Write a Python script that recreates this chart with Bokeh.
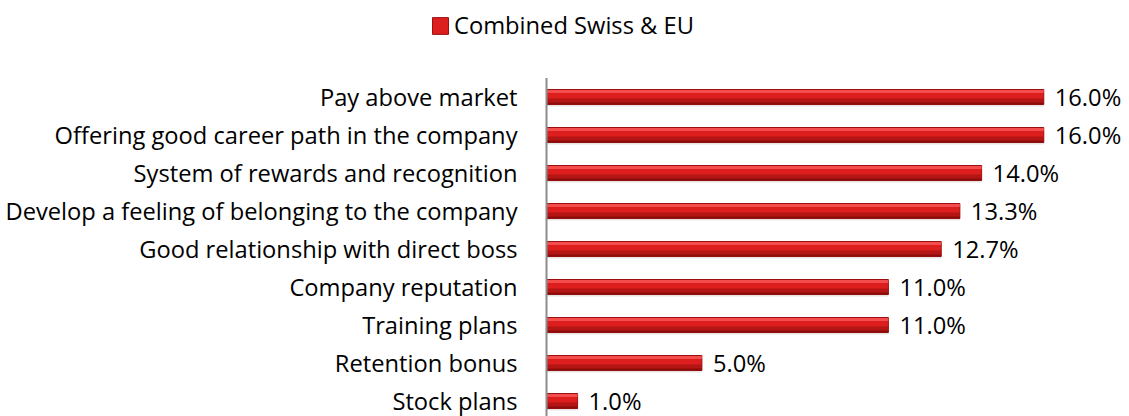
from bokeh.plotting import figure
from bokeh.models import Range1d, ColumnDataSource, Legend, LegendItem
from bokeh.transform import dodge
from bokeh.core.properties import value
from bokeh.embed import file_html
from bokeh.resources import INLINE

categories = [
    "Pay above market",
    "Offering good career path in the company",
    "System of rewards and recognition",
    "Develop a feeling of belonging to the company",
    "Good relationship with direct boss",
    "Company reputation",
    "Training plans",
    "Retention bonus",
    "Stock plans",
]
values = [16.0, 16.0, 14.0, 13.3, 12.7, 11.0, 11.0, 5.0, 1.0]
series_name = "Combined Swiss & EU"

FONT = "Open Sans"
FS = "23.7px"
BAR_MID = "#dc1e1e"

W, H = 1129, 416
AXIS_X = 546          # pixel position of the value axis (x = 0)
PX_PER_PCT = 31.08    # horizontal scale
PITCH = 38.0          # vertical pixels per category
TOP = 77.5            # pixel position of the top of the category band

n = len(categories)
pos = [n - 1 - i for i in range(n)]  # top category highest

src = ColumnDataSource(dict(
    pos=pos,
    cat=categories,
    val=values,
    lbl=[f"{v:.1f}%" for v in values],
))

y_end = (n - 0.5) + TOP / PITCH
y_start = y_end - H / PITCH
p = figure(
    width=W, height=H,
    x_range=Range1d(-AXIS_X / PX_PER_PCT, (W - AXIS_X) / PX_PER_PCT),
    y_range=Range1d(y_start, y_end),
    x_axis_location=None, y_axis_location=None,
    output_backend="svg", toolbar_location=None,
    min_border_left=0, min_border_right=0, min_border_top=0, min_border_bottom=0,
)
p.outline_line_color = None
p.grid.visible = False

u = 1.0 / PITCH  # one pixel in category units
# shadow under each bar
p.hbar(y=dodge("pos", -4.5 * u), right="val", left=0, height=10 * u,
       source=src, fill_color="#a0a0a0", fill_alpha=0.28, line_color=None)
# main bar
main = p.hbar(y="pos", right="val", left=0, height=15 * u, source=src,
              fill_color=BAR_MID, line_color="#9e1010", line_width=1)
# top highlight
p.hbar(y=dodge("pos", 5.5 * u), right="val", left=0, height=3 * u,
       source=src, fill_color="#f24c4c", line_color=None)
# lower darker bands
p.hbar(y=dodge("pos", -4.0 * u), right="val", left=0, height=5 * u,
       source=src, fill_color="#b41515", line_color=None)
p.hbar(y=dodge("pos", -6.5 * u), right="val", left=0, height=2 * u,
       source=src, fill_color="#8c0c0c", line_color=None)

# category axis line at x = 0
p.segment(x0=[0], y0=[n - 0.5], x1=[0], y1=[-0.5],
          line_color="#8c8c8c", line_width=2)

# category labels
p.text(x=0, y="pos", text="cat", source=src, x_offset=-29,
       text_baseline="middle", text_align="right",
       text_font=value(FONT), text_font_size=FS, text_color="#000000")

# value labels
p.text(x="val", y="pos", text="lbl", source=src, x_offset=11,
       text_baseline="middle", text_align="left",
       text_font=value(FONT), text_font_size=FS, text_color="#000000")

legend = Legend(items=[LegendItem(label=series_name, renderers=[main])],
                location=(430, 375), orientation="horizontal",
                glyph_width=20, glyph_height=21, label_standoff=4,
                padding=0, margin=0, spacing=0,
                border_line_color=None, background_fill_alpha=0,
                label_text_font=FONT, label_text_font_size=FS,
                label_text_color="#000000")
p.add_layout(legend, "center")

open("out.html", "w").write(file_html(p, INLINE))
